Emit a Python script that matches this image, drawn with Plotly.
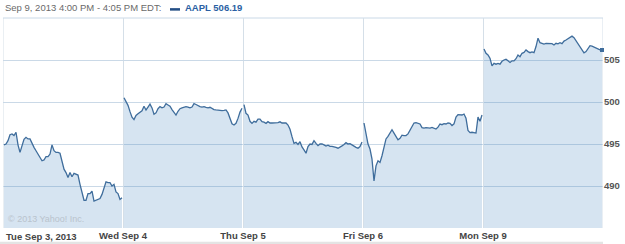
import plotly.graph_objects as go

# ---- data (AAPL intraday, 5-minute-ish samples) ----
day_labels = ["Tue Sep 3, 2013", "Wed Sep 4", "Thu Sep 5", "Fri Sep 6", "Mon Sep 9"]

tue = [494.9, 495.0, 495.4, 496.1, 496.2, 496.0, 496.4, 494.9, 494.0, 494.8,
       495.55, 495.8, 495.6, 495.6, 495.0, 494.6, 494.2, 493.8, 493.4, 493.0,
       493.1, 493.5, 493.5, 493.8, 494.9, 494.2, 494.0, 494.0, 493.9, 492.8,
       492.0, 491.6, 491.0, 491.6, 491.1, 491.5, 491.4, 491.3, 490.2, 489.2,
       488.3, 488.3, 489.1, 489.1, 489.4, 488.2, 488.3, 488.4, 488.5, 489.0,
       489.9, 490.5, 490.4, 490.4, 490.0, 490.2, 489.3, 489.1, 488.4, 488.6]

wed = [500.5, 500.0, 499.6, 498.85, 498.2, 497.9, 498.4, 498.6, 498.8, 498.95,
       499.5, 499.05, 499.4, 499.75, 499.3, 498.55, 498.7, 499.2, 499.45, 499.3,
       499.4, 499.8, 499.65, 499.5, 499.1, 498.75, 498.45, 498.9, 499.2, 499.3,
       499.4, 499.45, 499.4, 499.3, 499.4, 499.8, 499.7, 499.55, 499.45, 499.4,
       499.45, 499.35, 499.3, 499.37, 499.2, 499.1, 499.05, 499.0, 498.97, 498.97,
       499.0, 499.05, 498.7, 497.9, 497.4, 497.26, 497.46, 498.05, 498.8, 499.25]

thu = [499.7, 498.65, 498.45, 497.7, 497.46, 497.7, 497.6, 497.95, 497.95, 497.65,
       497.6, 497.46, 497.66, 497.5, 497.5, 497.5, 497.48, 497.54, 497.64, 497.5,
       497.5, 497.5, 497.26, 496.75, 495.87, 495.08, 495.2, 494.95, 495.28, 494.65,
       494.3, 493.9, 494.7, 495.0, 494.95, 495.4, 495.08, 494.8, 495.0, 495.0,
       494.9, 494.76, 494.86, 494.72, 494.72, 494.7, 494.6, 494.5, 494.6, 494.78,
       494.95, 495.16, 495.0, 495.05, 494.9, 494.7, 494.6, 494.5, 494.7, 495.25]

fri = [497.5, 496.0, 495.0, 494.4, 493.2, 490.6, 492.4, 493.0, 492.8, 493.6,
       494.7, 495.6, 495.9, 496.35, 496.7, 496.3, 495.8, 495.5, 495.67, 496.05,
       496.0, 496.0, 496.2, 496.67, 497.1, 497.5, 497.55, 497.5, 497.38, 496.95,
       496.9, 496.95, 496.9, 496.9, 496.98, 496.87, 496.78, 497.0, 497.38, 497.3,
       497.42, 497.38, 497.5, 497.45, 497.2, 497.4, 498.2, 498.5, 498.5, 498.45,
       498.57, 498.06, 496.6, 496.35, 496.4, 496.35, 496.3, 498.2, 497.7, 498.45]

mon = [506.3, 505.8, 505.6, 505.2, 504.3, 504.6, 504.5, 504.6, 504.5, 504.85,
       505.0, 505.1, 504.9, 504.7, 504.9, 504.9, 505.15, 505.6, 505.4, 505.8,
       505.9, 506.2, 506.0, 505.87, 505.97, 505.87, 506.6, 507.6, 507.06, 506.98,
       506.9, 506.97, 506.95, 506.95, 506.95, 506.79, 506.99, 506.92, 507.06, 506.95,
       507.25, 507.38, 507.55, 507.72, 507.84, 507.65, 507.3, 507.0, 506.6, 506.3,
       505.85, 506.0, 506.35, 506.7, 506.65, 506.52, 506.45, 506.25, 506.2, 506.19]

y_ticks = [490, 495, 500, 505, 510]
y_tick_text = ["490", "495", "500", "505", ""]
last_price = 506.19

days = [tue, wed, thu, fri, mon]

LINE = "#3f6d9c"
FILL = "rgba(70,130,190,0.22)"
GRID = "#cad9e7"
FONT = "Liberation Sans, Arial, sans-serif"

fig = go.Figure()
for d, vals in enumerate(days):
    n = len(vals)
    xs = [d + (i + 0.5) / n for i in range(n)]
    fig.add_trace(go.Scatter(
        x=xs, y=vals, mode="lines", fill="tozeroy", fillcolor=FILL,
        line=dict(color=LINE, width=1.3), hoverinfo="skip", showlegend=False))

# end-of-day marker on last point
fig.add_trace(go.Scatter(
    x=[len(days) - 0.5 / len(mon)], y=[mon[-1]], mode="markers",
    marker=dict(color=LINE, size=4, symbol="square"), showlegend=False,
    hoverinfo="skip", cliponaxis=False))

fig.update_layout(
    width=625, height=244,
    margin=dict(l=3, r=22, t=18, b=16),
    paper_bgcolor="white", plot_bgcolor="white",
    xaxis=dict(range=[0, len(days)], tickvals=list(range(1, len(days))),
               ticktext=day_labels[1:], showgrid=True, gridcolor="#d5dfe8",
               gridwidth=1, zeroline=False, showline=False, ticks="",
               tickfont=dict(family=FONT, size=9.5, color="#444444", weight="bold"),
               fixedrange=True),
    yaxis=dict(range=[485, 510], side="right", tickvals=y_ticks, ticktext=y_tick_text,
               showgrid=True, gridcolor=GRID, gridwidth=1, zeroline=False,
               showline=False, ticks="",
               tickfont=dict(family=FONT, size=9.5, color="#555555", weight="bold"),
               fixedrange=True),
)

# frame edges (left / right)
for xe in [0, len(days)]:
    fig.add_shape(type="line", xref="x", yref="paper", x0=xe, x1=xe, y0=0, y1=1,
                  line=dict(color="#d5dfe8", width=1), layer="below")
fig.add_shape(type="line", xref="paper", yref="paper", x0=0, x1=1, y0=1, y1=1,
              line=dict(color=GRID, width=1), layer="below")

# first day label, left aligned
fig.add_annotation(text=day_labels[0], xref="x", yref="paper", x=0, y=0,
                   xanchor="left", yanchor="top", yshift=-1, showarrow=False,
                   xshift=1,
                   font=dict(family=FONT, size=9.5, color="#444444", weight="bold"))

# header
fig.add_annotation(text="Sep 9, 2013 4:00 PM - 4:05 PM EDT:", xref="paper", yref="paper",
                   x=0, y=1, xanchor="left", yanchor="bottom", yshift=3, showarrow=False,
                   font=dict(family=FONT, size=9.5, color="#6a6a6a"))
fig.add_shape(type="rect", xref="paper", yref="paper",
              x0=(170 - 3) / 600, x1=(180 - 3) / 600, y0=1.035, y1=1.047,
              fillcolor="#244f86", line=dict(width=0))
fig.add_annotation(text=f"AAPL {last_price:.2f}", xref="paper", yref="paper",
                   x=(183 - 3) / 600, y=1, xanchor="left", yanchor="bottom", yshift=3,
                   showarrow=False,
                   font=dict(family=FONT, size=9.5, color="#2a5fa3", weight="bold"))

# copyright
fig.add_annotation(text="© 2013 Yahoo! Inc.", xref="paper", yref="paper",
                   x=0, y=0, xanchor="left", yanchor="bottom", xshift=3, yshift=2,
                   showarrow=False, font=dict(family=FONT, size=9, color="#b9c3cd"))

# grey strip at bottom
fig.add_shape(type="rect", xref="paper", yref="paper", x0=-0.01, x1=1.0,
              y0=-0.082, y1=-0.066, fillcolor="#e4e4e4", line=dict(width=0))

fig.write_html("out.html")
